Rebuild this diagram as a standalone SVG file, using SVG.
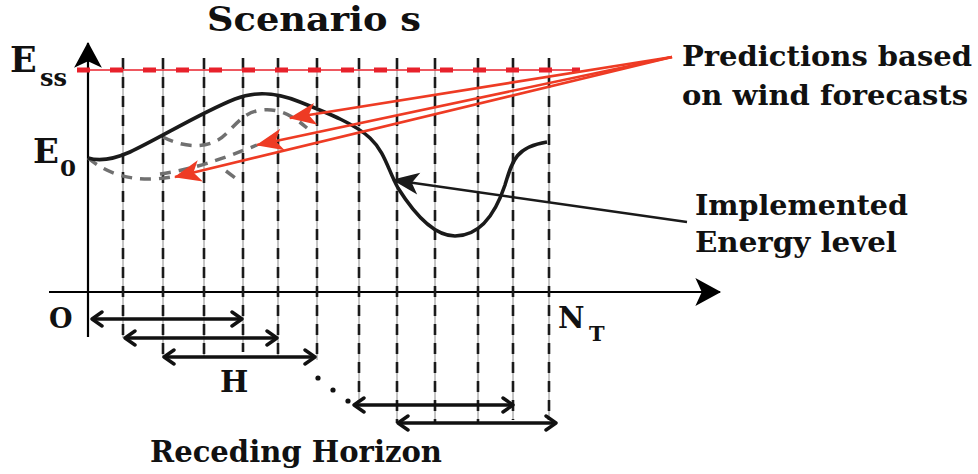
<svg xmlns="http://www.w3.org/2000/svg" width="978" height="474" viewBox="0 0 978 474">
<style>
  .t { font-family: "DejaVu Serif", "Liberation Serif", serif; font-weight: bold; fill: #111; }
  .vg { stroke: #8a8a8a; stroke-width: 1; fill: none; }
  .vd { stroke: #1a1a1a; stroke-width: 2.6; stroke-dasharray: 11 8; fill: none; }
  .gray { stroke: #707070; stroke-width: 3.5; stroke-dasharray: 11 8; fill: none; }
  .red { stroke: #ee3b24; stroke-width: 2.6; fill: none; }
  .hz { stroke: #111; stroke-width: 3.4; fill: none; }
</style>
<defs>
  <marker id="ahRed" markerUnits="userSpaceOnUse" markerWidth="30" markerHeight="26" viewBox="-27 -13 29 26" refX="0" refY="0" orient="auto">
    <path d="M1,0 L-26,-11 L-19,0 L-26,11 Z" fill="#ee3b24"/>
  </marker>
  <marker id="ahBlk" markerUnits="userSpaceOnUse" markerWidth="30" markerHeight="26" viewBox="-27 -13 29 26" refX="0" refY="0" orient="auto">
    <path d="M1,0 L-26,-11 L-19,0 L-26,11 Z" fill="#1a1a1a"/>
  </marker>
  <marker id="ahAxis" markerUnits="userSpaceOnUse" markerWidth="30" markerHeight="30" viewBox="-25 -14 27 28" refX="0" refY="0" orient="auto">
    <path d="M1,0 L-23,-13 L-17,0 L-23,13 Z" fill="#000"/>
  </marker>
  <marker id="chev" markerUnits="userSpaceOnUse" markerWidth="18" markerHeight="18" viewBox="-13 -9 15 18" refX="0" refY="0" orient="auto-start-reverse">
    <path d="M-10,-7 L0,0 L-10,7" fill="none" stroke="#111" stroke-width="3.4" stroke-linecap="round" stroke-linejoin="round"/>
  </marker>
</defs>

<g id="title"><text class="t" x="207" y="31" font-size="33" textLength="214" lengthAdjust="spacingAndGlyphs">Scenario s</text></g>

<g id="axes">
  <line x1="88" y1="337" x2="88" y2="43" stroke="#000" stroke-width="2.2" marker-end="url(#ahAxis)"/>
  <line x1="49" y1="292" x2="720" y2="292" stroke="#000" stroke-width="2.2" marker-end="url(#ahAxis)"/>
</g>

<g id="verticals">
  <path class="vg" d="M123,58V338 M163,58V358 M204,58V357 M243,58V352 M278,58V357 M317,58V360 M359,58V402 M397,58V423 M435,58V422 M478,58V422 M513,58V420 M549,58V420"/>
  <path class="vd" d="M123,58V338 M163,58V358 M204,58V357 M243,58V352 M278,58V357 M317,58V360 M359,58V402 M397,58V423 M435,58V422 M478,58V422 M513,58V420 M549,58V420"/>
</g>

<g id="ess-line">
  <line x1="77" y1="70" x2="580" y2="70" stroke="#e8212b" stroke-width="1.4"/>
  <line x1="77" y1="70" x2="580" y2="70" stroke="#e8212b" stroke-width="5" stroke-dasharray="13 20"/>
</g>

<g id="predictions">
  <path class="gray" d="M88,158 C105,172 130,184 172,177"/>
  <path class="gray" d="M163,137 C178,145 200,150 218,140 C232,132 240,112 262,110 C282,108 295,118 307,128"/>
  <path class="gray" d="M160,174 C190,170 220,160 257,145"/>
  <path class="gray" d="M226,171 L238,180" stroke-dasharray="none"/>
</g>

<g id="implemented">
  <path d="M88,158 C98,161 112,160 130,152 C160,138 200,113 235,99 C255,91 275,92 300,102 C330,114 355,124 370,138 C385,152 388,170 398,188 C415,215 435,236 455,236 C480,236 495,215 505,185 C512,162 515,147 547,142" fill="none" stroke="#1a1a1a" stroke-width="3.6"/>
</g>

<g id="connectors">
  <line class="red" x1="672" y1="57" x2="290" y2="118" marker-end="url(#ahRed)"/>
  <line class="red" x1="672" y1="57" x2="257" y2="145" marker-end="url(#ahRed)"/>
  <line class="red" x1="672" y1="57" x2="175" y2="177" marker-end="url(#ahRed)"/>
  <line x1="687" y1="222" x2="393" y2="180" stroke="#1a1a1a" stroke-width="2.4" marker-end="url(#ahBlk)"/>
</g>

<g id="horizons">
  <line class="hz" x1="92" y1="319" x2="242" y2="319" marker-start="url(#chev)" marker-end="url(#chev)"/>
  <line class="hz" x1="125" y1="338" x2="277" y2="338" marker-start="url(#chev)" marker-end="url(#chev)"/>
  <line class="hz" x1="164" y1="357" x2="315" y2="357" marker-start="url(#chev)" marker-end="url(#chev)"/>
  <line class="hz" x1="354" y1="405" x2="513" y2="405" marker-start="url(#chev)" marker-end="url(#chev)"/>
  <line class="hz" x1="398" y1="423" x2="556" y2="423" marker-start="url(#chev)" marker-end="url(#chev)"/>
  <circle cx="318" cy="378" r="2.6" fill="#111"/>
  <circle cx="333" cy="390" r="2.6" fill="#111"/>
  <circle cx="348" cy="401" r="2.6" fill="#111"/>
</g>

<g id="labels">
  <text class="t" x="10" y="72" font-size="35">E</text>
  <text class="t" x="40" y="86" font-size="24">ss</text>
  <text class="t" x="33" y="163" font-size="34">E</text>
  <text class="t" x="60" y="176" font-size="23">0</text>
  <text class="t" x="49" y="328" font-size="27">O</text>
  <text class="t" x="558" y="328" font-size="29">N</text>
  <text class="t" x="589" y="341" font-size="21">T</text>
  <text class="t" x="220" y="392" font-size="30">H</text>
  <text class="t" x="150" y="462" font-size="29" textLength="292" lengthAdjust="spacingAndGlyphs">Receding Horizon</text>
</g>

<g id="label-predictions">
  <text class="t" x="682" y="66" font-size="28" textLength="290" lengthAdjust="spacingAndGlyphs">Predictions based</text>
  <text class="t" x="682" y="105" font-size="28" textLength="286" lengthAdjust="spacingAndGlyphs">on wind forecasts</text>
</g>
<g id="label-implemented">
  <text class="t" x="695" y="215" font-size="28" textLength="213" lengthAdjust="spacingAndGlyphs">Implemented</text>
  <text class="t" x="695" y="252" font-size="28" textLength="202" lengthAdjust="spacingAndGlyphs">Energy level</text>
</g>
</svg>
